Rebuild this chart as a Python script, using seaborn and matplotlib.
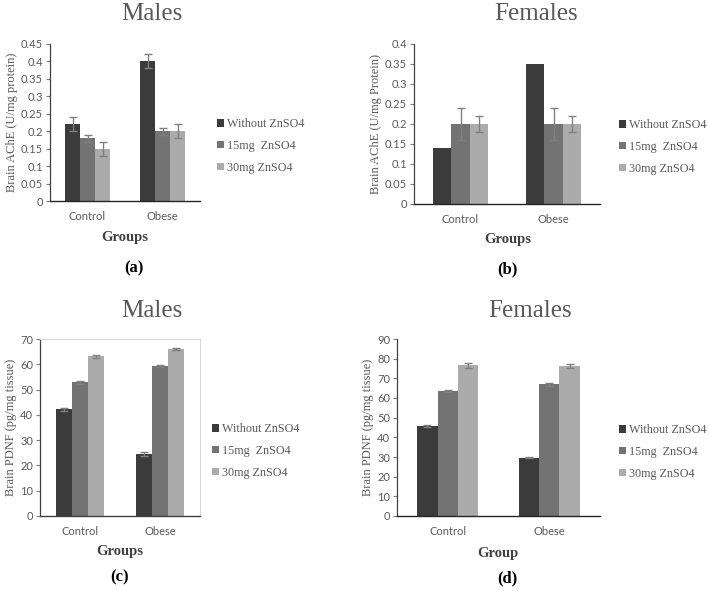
import numpy as np
import pandas as pd
import matplotlib
matplotlib.use("Agg")
import matplotlib.pyplot as plt
from matplotlib.ticker import FuncFormatter
import seaborn as sns

# -----------------------------
# DATA
# -----------------------------
groups = ["Control", "Obese"]
doses = ["Without ZnSO4", "15mg  ZnSO4", "30mg ZnSO4"]

# (a) Males AChE, one list per dose: [Control, Obese]
ache_m = [[0.22, 0.40], [0.18, 0.20], [0.15, 0.20]]
ache_m_err = [[0.02, 0.02], [0.01, 0.01], [0.02, 0.02]]

# (b) Females AChE
ache_f = [[0.14, 0.35], [0.20, 0.20], [0.20, 0.20]]
ache_f_err = [[np.nan, np.nan], [0.04, 0.04], [0.02, 0.02]]

# (c) Males PDNF
pdnf_m = [[42.2, 24.5], [52.8, 59.3], [63.1, 66.1]]
pdnf_m_err = [[0.7, 0.7], [0.4, 0.4], [0.5, 0.4]]

# (d) Females PDNF
pdnf_f = [[45.8, 29.7], [63.6, 67.0], [76.6, 76.3]]
pdnf_f_err = [[0.4, 0.3], [0.7, 0.8], [1.3, 1.2]]

palette = ["#3b3b3b", "#737373", "#ababab"]
grey_txt = "#595959"

sns.set_theme(style="white")
plt.rcParams["font.family"] = ["Liberation Serif", "DejaVu Serif"]

W, H = 709, 591
fig = plt.figure(figsize=(W / 100, H / 100), dpi=100)


def px_axes(left, top, right, bottom):
    return fig.add_axes([left / W, 1 - bottom / H, (right - left) / W, (bottom - top) / H])


def fx(x):
    return x / W


def fy(y):
    return 1 - y / H


def panel(box, values, errs, ymax, step, ylabel, title, title_xy, xlab, xlab_xy,
          tag, tag_xy, leg_xy, framed=False):
    ax = px_axes(*box)
    df = pd.DataFrame({
        "group": groups * len(doses),
        "dose": [d for d in doses for _ in groups],
        "value": [v for row in values for v in row],
    })
    sns.barplot(data=df, x="group", y="value", hue="dose", order=groups,
                hue_order=doses, palette=palette, width=0.6, saturation=1,
                errorbar=None, legend=False, ax=ax, linewidth=0)

    # error bars on top of each bar
    for cont, err_row in zip(ax.containers, errs):
        for bar, e in zip(cont, err_row):
            if np.isnan(e):
                continue
            x = bar.get_x() + bar.get_width() / 2
            ax.errorbar(x, bar.get_height(), yerr=e, fmt="none",
                        ecolor="#808080", elinewidth=1, capsize=3, capthick=1)

    ax.set_xlim(-0.5, 1.5)
    ax.set_ylim(0, ymax)
    ax.set_yticks(np.arange(0, ymax + step / 2, step))
    ax.yaxis.set_major_formatter(FuncFormatter(lambda v, p: f"{round(v, 4):g}"))
    ax.set_xlabel("")
    ax.set_ylabel(ylabel, fontsize=9, color=grey_txt, labelpad=2)

    for lab in ax.get_xticklabels() + ax.get_yticklabels():
        lab.set_fontfamily(["Lato", "DejaVu Sans"])
        lab.set_fontsize(8)
        lab.set_color(grey_txt)
    ax.tick_params(axis="y", length=3, width=0.8, color="#7f7f7f", pad=2, left=True)
    ax.tick_params(axis="x", length=0, pad=7)

    if framed:
        for s in ax.spines.values():
            s.set_color("#d9d9d9")
            s.set_linewidth(0.8)
        ax.spines["left"].set_color("#404040")
        ax.spines["bottom"].set_color("#404040")
    else:
        ax.spines["top"].set_visible(False)
        ax.spines["right"].set_visible(False)
        ax.spines["left"].set_color("#404040")
        ax.spines["bottom"].set_color("#262626")
    ax.spines["left"].set_linewidth(0.9)
    ax.spines["bottom"].set_linewidth(1.0)

    fig.text(fx(title_xy[0]), fy(title_xy[1]), title, fontsize=18, color=grey_txt,
             ha="center", va="center")
    fig.text(fx(xlab_xy[0]), fy(xlab_xy[1]), xlab, fontsize=10.5, color="#404040",
             fontweight="bold", ha="center", va="center")
    fig.text(fx(tag_xy[0]), fy(tag_xy[1]), tag, fontsize=12, color="black",
             fontweight="bold", ha="center", va="center")

    ax.legend(handles=list(ax.containers), labels=doses, loc="center left",
              bbox_to_anchor=(fx(leg_xy[0]), fy(leg_xy[1])),
              bbox_transform=fig.transFigure, frameon=False,
              prop={"family": ["Liberation Serif"], "size": 8.7},
              labelcolor=grey_txt, handlelength=0.55, handleheight=0.55,
              handletextpad=0.25, labelspacing=0.8, borderpad=0, borderaxespad=0)
    return ax


panel((50, 44, 200, 201), ache_m, ache_m_err, 0.45, 0.05,
      "Brain AChE (U/mg protein)", "Males", (152, 14), "Groups", (125, 238),
      "(a)", (134, 268), (217, 146))

panel((414, 44, 600, 204), ache_f, ache_f_err, 0.4, 0.05,
      "Brain AChE (U/mg Protein)", "Females", (536, 14), "Groups", (508, 240),
      "(b)", (507, 269), (619, 147))

panel((40, 339, 200, 516), pdnf_m, pdnf_m_err, 70, 10,
      "Brain PDNF (pg/mg tissue)", "Males", (152, 311), "Groups", (120, 552),
      "(c)", (120, 577), (212, 451), framed=True)

panel((397, 339, 600, 516), pdnf_f, pdnf_f_err, 90, 10,
      "Brain PDNF (pg/mg tissue)", "Females", (530, 311), "Group", (498, 553),
      "(d)", (507, 578), (619, 452))

fig.savefig("out.png", dpi=100, facecolor="white")
